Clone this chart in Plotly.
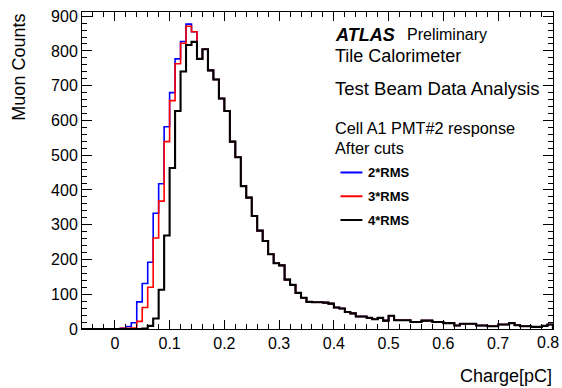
import numpy as np
import plotly.graph_objects as go

# ---------------- data ----------------
BIN_LOW = -0.06
BIN_WIDTH = 0.01
N_BINS = 86

counts_2rms = [
    0, 0, 0, 0, 0, 0,            # -0.06 .. -0.01
    0, 2, 7, 18, 78, 131,        # 0.00 .. 0.05
    192, 333, 418, 582, 680, 777, 827, 877, 855, 777,   # 0.06 .. 0.15
    805, 744, 718, 663, 627, 539, 494, 411, 378, 325,   # 0.16 .. 0.25
    283, 253, 215, 189, 183, 142, 127, 104, 90, 78,     # 0.26 .. 0.35
    77, 77, 76, 73, 62, 59, 49, 45, 36, 36,             # 0.36 .. 0.45
    32, 28, 32, 24, 38, 25, 25, 25, 20, 20,             # 0.46 .. 0.55
    24, 24, 20, 20, 17, 17, 10, 15, 15, 15,             # 0.56 .. 0.65
    10, 10, 8, 8, 13, 13, 17, 11, 8, 8,                 # 0.66 .. 0.75
    6, 6, 9, 13,                                        # 0.76 .. 0.79
]

counts_3rms = [
    0, 0, 0, 0, 0, 0,
    0, 2, 2, 3, 22, 62,
    120, 262, 368, 539, 657, 763, 822, 871, 855, 777,
    805, 744, 718, 663, 627, 539, 494, 411, 378, 325,
    283, 253, 215, 189, 183, 142, 127, 104, 90, 78,
    77, 77, 76, 73, 62, 59, 49, 45, 36, 36,
    32, 28, 32, 24, 38, 25, 25, 25, 20, 20,
    24, 24, 20, 20, 17, 17, 10, 15, 15, 15,
    10, 10, 8, 8, 13, 13, 17, 11, 8, 8,
    6, 6, 9, 13,
]

counts_4rms = [
    0, 0, 0, 0, 0, 0,
    0, 0, 0, 0, 0, 1,
    9, 30, 113, 269, 463, 627, 741, 817, 826, 777,
    805, 744, 718, 663, 627, 539, 494, 411, 378, 325,
    283, 253, 215, 189, 183, 142, 127, 104, 90, 78,
    77, 77, 76, 73, 62, 59, 49, 45, 36, 36,
    32, 28, 32, 24, 38, 25, 25, 25, 20, 20,
    24, 24, 20, 20, 17, 17, 10, 15, 15, 15,
    10, 10, 8, 8, 13, 13, 17, 11, 8, 8,
    6, 6, 9, 13,
]

series_names = ["2*RMS", "3*RMS", "4*RMS"]
series_colors = ["#0000ff", "#ff0000", "#000000"]
series_widths = [1.6, 1.6, 2.1]
series_counts = [counts_2rms, counts_3rms, counts_4rms]

x_tick_values = [0, 0.1, 0.2, 0.3, 0.4, 0.5, 0.6, 0.7, 0.8]
x_tick_labels = ["0", "0.1", "0.2", "0.3", "0.4", "0.5", "0.6", "0.7", "0.8"]
y_tick_values = [0, 100, 200, 300, 400, 500, 600, 700, 800, 900]
y_tick_labels = ["0", "100", "200", "300", "400", "500", "600", "700", "800", "900"]

X_RANGE = [-0.06, 0.8002]
Y_RANGE = [0, 912]

# ---------------- layout geometry ----------------
W, H = 562, 388
ML, MR, MT, MB = 82, 8, 9, 59
PW, PH = W - ML - MR, H - MT - MB


def px(x):
    return (x - ML) / PW


def py(y):
    return (H - MB - y) / PH


edges = np.round(BIN_LOW + BIN_WIDTH * np.arange(N_BINS + 1), 4)

fig = go.Figure()
for name, color, width, counts in zip(series_names, series_colors, series_widths, series_counts):
    c = np.asarray(counts, dtype=float)
    xs = np.concatenate([[edges[0]], edges[:-1], [edges[-1]], [edges[-1]]])
    ys = np.concatenate([[0], c, [c[-1]], [0]])
    fig.add_trace(go.Scatter(
        x=xs, y=ys, mode="lines", name=name,
        line=dict(color=color, width=width, shape="hv"),
        showlegend=False, hoverinfo="skip",
    ))

FONT = "Liberation Sans, Arial, Helvetica, sans-serif"

axis_common = dict(
    showgrid=False, zeroline=False,
    showline=True, linecolor="black", linewidth=1, mirror="ticks",
    ticks="inside", tickcolor="black", tickwidth=1,
    tickfont=dict(family=FONT, size=16, color="black"),
)

# the last x label sits on the window edge in the original (cut there);
# it is drawn as a separate text just inside the edge
x_axis_ticktext = x_tick_labels[:-1] + [""]

fig.update_xaxes(
    range=X_RANGE, tickmode="array", tickvals=x_tick_values, ticktext=x_axis_ticktext,
    ticklen=9,
    minor=dict(dtick=0.02, tick0=0, ticks="inside", ticklen=5, tickcolor="black", tickwidth=1),
    **axis_common,
)
fig.update_yaxes(
    range=Y_RANGE, tickmode="array", tickvals=y_tick_values, ticktext=y_tick_labels,
    ticklen=10,
    minor=dict(dtick=20, tick0=0, ticks="inside", ticklen=5, tickcolor="black", tickwidth=1),
    **axis_common,
)

annotations = [
    # last x tick label
    dict(text=x_tick_labels[-1], x=px(561), y=py(343), xanchor="right", yanchor="middle",
         borderpad=0, font=dict(family=FONT, size=16, color="black")),
    # axis titles
    dict(text="Muon Counts", x=px(18), y=1.0, xanchor="center", yanchor="top",
         textangle=-90, font=dict(family=FONT, size=18, color="black")),
    dict(text="Charge[pC]", x=px(555), y=py(376), xanchor="right", yanchor="middle",
         font=dict(family=FONT, size=18, color="black")),
    # labels
    dict(text="<b><i>ATLAS</i></b>", x=px(334), y=py(32), xanchor="left", yanchor="middle",
         font=dict(family=FONT, size=18, color="black")),
    dict(text="Preliminary", x=px(406), y=py(32), xanchor="left", yanchor="middle",
         font=dict(family=FONT, size=16, color="black")),
    dict(text="Tile Calorimeter", x=px(334), y=py(53), xanchor="left", yanchor="middle",
         font=dict(family=FONT, size=18, color="black")),
    dict(text="Test Beam Data Analysis", x=px(334), y=py(86), xanchor="left", yanchor="middle",
         font=dict(family=FONT, size=18.5, color="black")),
    dict(text="Cell A1 PMT#2 response", x=px(334), y=py(126), xanchor="left", yanchor="middle",
         font=dict(family=FONT, size=16.3, color="black")),
    dict(text="After cuts", x=px(334), y=py(146), xanchor="left", yanchor="middle",
         font=dict(family=FONT, size=16.3, color="black")),
]

shapes = []
legend_y = [171, 195, 219]
for name, color, ly in zip(series_names, series_colors, legend_y):
    shapes.append(dict(type="line", xref="paper", yref="paper",
                       x0=px(341), x1=px(363), y0=py(ly), y1=py(ly),
                       line=dict(color=color, width=2)))
    annotations.append(dict(text="<b>" + name + "</b>", x=px(367), y=py(ly),
                            xanchor="left", yanchor="middle",
                            font=dict(family=FONT, size=13, color="black")))

for a in annotations:
    a.setdefault("xref", "paper")
    a.setdefault("yref", "paper")
    a["showarrow"] = False

fig.update_layout(
    width=W, height=H,
    margin=dict(l=ML, r=MR, t=MT, b=MB),
    paper_bgcolor="white", plot_bgcolor="white",
    annotations=annotations, shapes=shapes,
    showlegend=False,
)

fig.write_html("out.html")
